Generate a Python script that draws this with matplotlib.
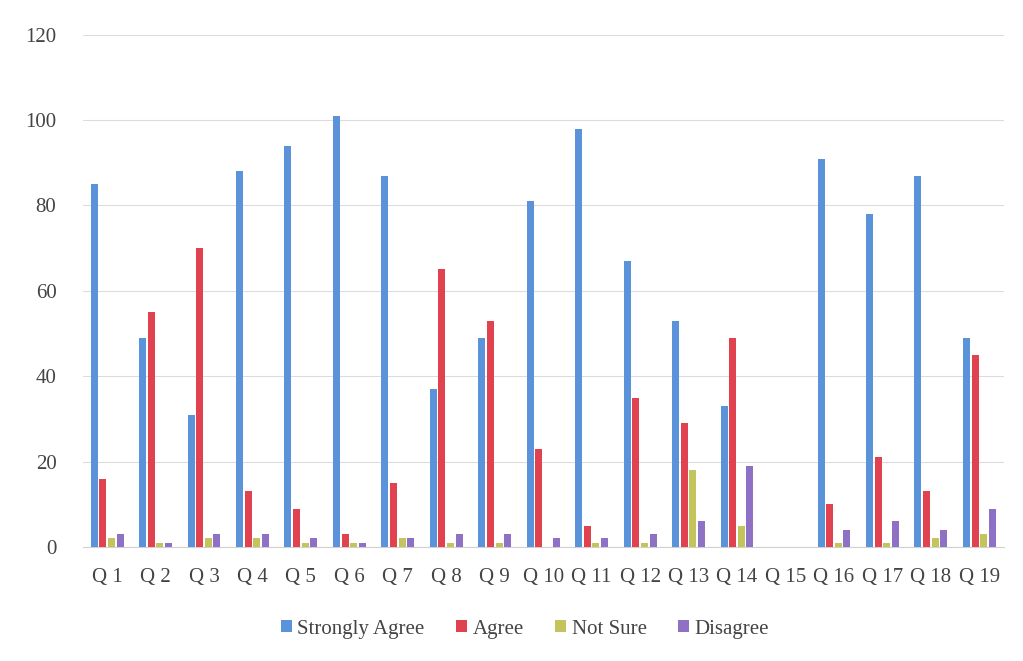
import matplotlib
matplotlib.use("Agg")
import matplotlib.pyplot as plt
import numpy as np

categories = [f"Q {i}" for i in range(1, 20)]
series_names = ["Strongly Agree", "Agree", "Not Sure", "Disagree"]
strongly_agree = [85, 49, 31, 88, 94, 101, 87, 37, 49, 81, 98, 67, 53, 33, 0, 91, 78, 87, 49]
agree = [16, 55, 70, 13, 9, 3, 15, 65, 53, 23, 5, 35, 29, 49, 0, 10, 21, 13, 45]
not_sure = [2, 1, 2, 2, 1, 1, 2, 1, 1, 0, 1, 1, 18, 5, 0, 1, 1, 2, 3]
disagree = [3, 1, 3, 3, 2, 1, 2, 3, 3, 2, 2, 3, 6, 19, 0, 4, 6, 4, 9]
yticks = [0, 20, 40, 60, 80, 100, 120]

colors = ["#5B93DB", "#E0424F", "#C3C55C", "#8E70C4"]

plt.rcParams['font.family'] = ['Liberation Serif', 'DejaVu Serif']

fig = plt.figure(figsize=(10.23, 6.61), dpi=100)
ax = fig.add_axes([0.081, 0.1725, 0.9, 0.775])

x = np.arange(len(categories))
w = 0.145
step = 0.178
data = [strongly_agree, agree, not_sure, disagree]
for i, (vals, name, c) in enumerate(zip(data, series_names, colors)):
    ax.bar(x + (i - 1.5) * step, vals, width=w, color=c, label=name, zorder=3)

ax.set_xlim(-0.5, len(categories) - 0.5)
ax.set_ylim(0, 120)
ax.set_yticks(yticks)
ax.set_xticks(x)
ax.set_xticklabels(categories)
ax.tick_params(axis='both', length=0, labelsize=15, colors="#444444")
ax.tick_params(axis='x', pad=15)
ax.tick_params(axis='y', pad=19)
ax.grid(axis='y', color="#dcdcdc", linewidth=0.8, zorder=0)
for s in ["top", "right", "left"]:
    ax.spines[s].set_visible(False)
ax.spines["bottom"].set_color("#d0d0d0")

ax.legend(loc="upper center", bbox_to_anchor=(0.48, -0.105), ncol=4, frameon=False,
          fontsize=15, handlelength=0.55, handleheight=0.55, handletextpad=0.25,
          columnspacing=1.5, labelcolor="#444444")

fig.savefig("out.png", dpi=100)
